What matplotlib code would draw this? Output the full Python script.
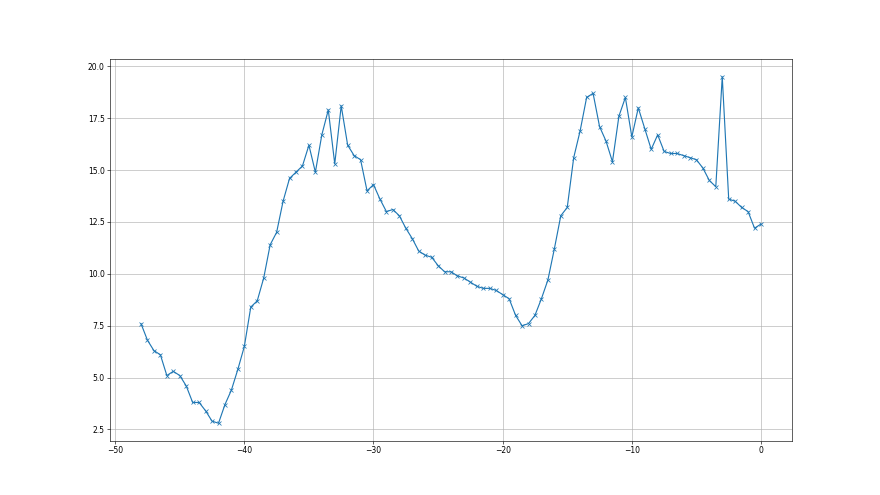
import matplotlib
matplotlib.use("Agg")
import matplotlib.pyplot as plt
import numpy as np

# Positions sampled every half unit from -48 to 0.
x = np.arange(-48, 0.5, 0.5)

y = [
    7.6, 6.8, 6.3, 6.1, 5.1, 5.3, 5.1, 4.6, 3.8, 3.8,
    3.4, 2.9, 2.8, 3.7, 4.4, 5.4, 6.5,
    8.4, 8.7, 9.8, 11.4, 12.0, 13.5, 14.6, 14.9, 15.2, 16.2,
    14.9, 16.7, 17.9, 15.3, 18.1, 16.2, 15.7, 15.5, 14.0, 14.3,
    13.6, 13.0, 13.1, 12.8, 12.2, 11.7, 11.1, 10.9, 10.8, 10.4,
    10.1, 10.1, 9.9, 9.8, 9.6, 9.4, 9.3, 9.3, 9.2, 9.0,
    8.8, 8.0, 7.5, 7.6, 8.0, 8.8, 9.7, 11.2, 12.8, 13.2,
    15.6, 16.9, 18.5, 18.7, 17.1, 16.4, 15.4, 17.6, 18.5, 16.6,
    18.0, 17.0, 16.0, 16.7, 15.9, 15.8, 15.8, 15.7, 15.6, 15.5,
    15.1, 14.5, 14.2, 19.5, 13.6, 13.5, 13.2, 13.0, 12.2, 12.4,
]

fig = plt.figure(figsize=(16, 9), dpi=55)
ax = fig.add_subplot(111)
ax.plot(x, y, marker="x")
ax.grid(True)

fig.savefig("out.png", dpi=55)
